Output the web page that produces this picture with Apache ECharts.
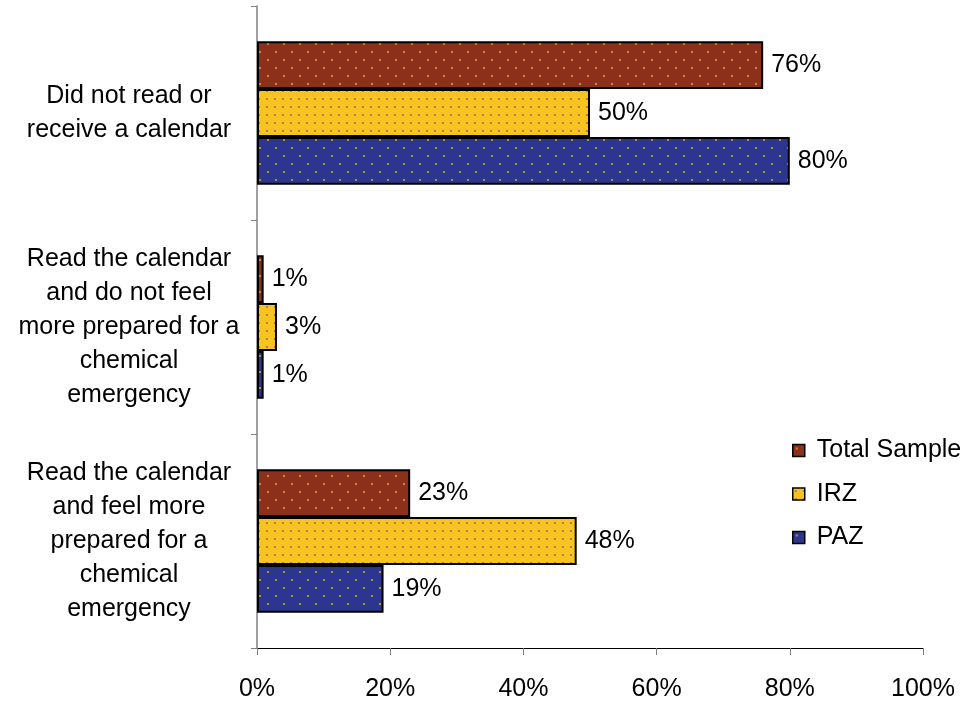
<!DOCTYPE html>
<html><head><meta charset="utf-8">
<script src="https://cdn.jsdelivr.net/npm/echarts@6/dist/echarts.min.js"></script>
<style>html,body{margin:0;padding:0;background:#fff}#c{width:974px;height:702px}</style>
</head><body><div id="c"></div>
<script>
var categories = [
  'Did not read or\nreceive a calendar',
  'Read the calendar\nand do not feel\nmore prepared for a\nchemical\nemergency',
  'Read the calendar\nand feel more\nprepared for a\nchemical\nemergency'
];
var seriesNames = ['Total Sample', 'IRZ', 'PAZ'];
var totalSample = [76, 1, 23];
var irz = [50, 3, 48];
var paz = [80, 1, 19];
var xTicks = [0, 20, 40, 60, 80, 100];

function makePattern(bg, dot, w, h, pts) {
  var c = document.createElement('canvas');
  c.width = w; c.height = h;
  var ctx = c.getContext('2d');
  ctx.fillStyle = bg; ctx.fillRect(0, 0, w, h);
  ctx.fillStyle = dot;
  pts.forEach(function (p) { ctx.beginPath(); ctx.arc(p[0], p[1], 1.1, 0, Math.PI * 2); ctx.fill(); });
  return { image: c, repeat: 'repeat' };
}
var redPat = makePattern('#8C2F1B', '#D9A23A', 16, 16, [[4, 4], [12, 12]]);
var yelPat = makePattern('#F6C41E', '#B8627A', 8, 8, [[3, 3]]);
var bluPat = makePattern('#2D368E', '#C6A446', 16, 16, [[4, 4], [12, 12]]);
var pats = [redPat, yelPat, bluPat];
var datas = [totalSample, irz, paz];

var font = 'Liberation Sans, Arial, sans-serif';
var FS = 25;
var chart = echarts.init(document.getElementById('c'), null, { renderer: 'canvas' });
var series = seriesNames.map(function (n, i) {
  return {
    name: n, type: 'bar', data: datas[i],
    barGap: '0%', barCategoryGap: '33%',
    itemStyle: { color: pats[i], borderColor: '#000', borderWidth: 2 },
    label: { show: true, position: 'right', distance: 8, formatter: '{c}%', color: '#000', fontSize: FS, fontFamily: font },
    emphasis: { disabled: true }
  };
});
chart.setOption({
  animation: false,
  grid: { left: 257, right: 51, top: 6, bottom: 54, containLabel: false, outerBoundsMode: 'none' },
  legend: {
    orient: 'vertical', left: 787, top: 433, itemWidth: 12, itemHeight: 12, itemGap: 18.5,
    icon: 'rect',
    data: seriesNames,
    itemStyle: { borderColor: '#000', borderWidth: 1.5 },
    textStyle: { fontSize: FS, fontFamily: font, color: '#000', padding: [0, 0, 0, 7] }
  },
  xAxis: {
    type: 'value', min: 0, max: 100, interval: 20,
    axisLine: { show: true, lineStyle: { color: '#000', width: 1 } },
    axisTick: { show: true, length: 7, lineStyle: { color: '#808080' } },
    splitLine: { show: false },
    axisLabel: { formatter: '{value}%', fontSize: FS, fontFamily: font, color: '#000', margin: 29 }
  },
  yAxis: {
    type: 'category', inverse: true, data: categories,
    axisLine: { show: true, lineStyle: { color: '#808080', width: 1.5 } },
    axisTick: { show: true, length: 6, lineStyle: { color: '#808080' } },
    axisLabel: { align: 'center', margin: 128, fontSize: FS, lineHeight: 34, fontFamily: font, color: '#000' }
  },
  series: series
});
</script></body></html>
